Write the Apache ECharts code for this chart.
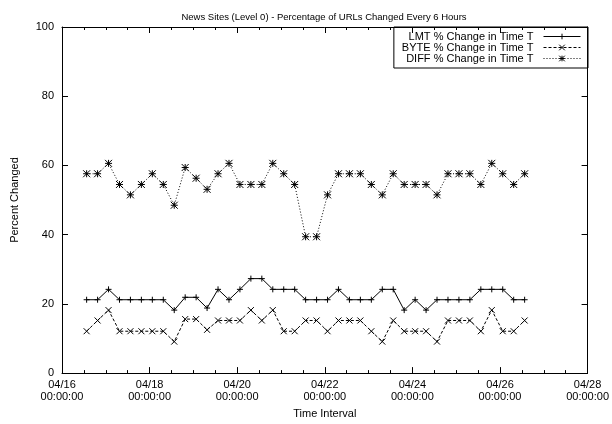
<!DOCTYPE html>
<html>
<head>
<meta charset="utf-8">
<script src="https://cdn.jsdelivr.net/npm/echarts@6/dist/echarts.min.js"></script>
<style>
  html, body { margin: 0; padding: 0; background: #fff; }
  #chart { width: 612px; height: 424px; }
</style>
</head>
<body>
<div id="chart"></div>
<script>
// Sampling: hours after 04/16 00:00, one sample every 6 hours
const startHour = 13.5;
const stepHours = 6;

// Percentage of URLs changed in each interval
const lmtPct = [21.2, 21.2, 24.2, 21.2, 21.2, 21.2, 21.2, 21.2, 18.2, 21.9,
                21.9, 18.8, 24.2, 21.2, 24.2, 27.3, 27.3, 24.2, 24.2, 24.2,
                21.2, 21.2, 21.2, 24.2, 21.2, 21.2, 21.2, 24.2, 24.2, 18.2,
                21.2, 18.2, 21.2, 21.2, 21.2, 21.2, 24.2, 24.2, 24.2, 21.2, 21.2];
const bytePct = [12.1, 15.2, 18.2, 12.1, 12.1, 12.1, 12.1, 12.1, 9.1, 15.6,
                 15.6, 12.5, 15.2, 15.2, 15.2, 18.2, 15.2, 18.2, 12.1, 12.1,
                 15.2, 15.2, 12.1, 15.2, 15.2, 15.2, 12.1, 9.1, 15.2, 12.1,
                 12.1, 12.1, 9.1, 15.2, 15.2, 15.2, 12.1, 18.2, 12.1, 12.1, 15.2];
const diffPct = [57.6, 57.6, 60.6, 54.5, 51.5, 54.5, 57.6, 54.5, 48.5, 59.4,
                 56.3, 53.1, 57.6, 60.6, 54.5, 54.5, 54.5, 60.6, 57.6, 54.5,
                 39.4, 39.4, 51.5, 57.6, 57.6, 57.6, 54.5, 51.5, 57.6, 54.5,
                 54.5, 54.5, 51.5, 57.6, 57.6, 57.6, 54.5, 60.6, 57.6, 54.5, 57.6];

const seriesNames = ['LMT % Change in Time T', 'BYTE % Change in Time T', 'DIFF % Change in Time T'];

// x axis range in hours: 04/16 00:00 .. 04/28 00:00, labelled every 2 days
const xMaxHours = 288;
const xTickHours = 48;
const yMax = 100;
const yTick = 20;

const FONT = '"Liberation Sans", Arial, Helvetica, sans-serif';

function pad2(n) { return (n < 10 ? '0' : '') + n; }
function hourLabel(h) {
  const d = new Date(Date.UTC(2000, 3, 16) + h * 3600 * 1000);
  return pad2(d.getUTCMonth() + 1) + '/' + pad2(d.getUTCDate()) + '\n' +
         pad2(d.getUTCHours()) + ':' + pad2(d.getUTCMinutes()) + ':00';
}
function toPoints(values) {
  return values.map((v, i) => [startHour + i * stepHours, v]);
}

const plusSym = 'path://M0,-1L0,1M-1,0L1,0';
const crossSym = 'path://M-1,-1L1,1M-1,1L1,-1';
const starSym = 'path://M0,-1L0,1M-1,0L1,0M-1,-1L1,1M-1,1L1,-1';

function lineSeries(name, values, symbol, size, dash) {
  return {
    name: name,
    type: 'line',
    xAxisIndex: 0,
    yAxisIndex: 0,
    data: toPoints(values),
    symbol: symbol,
    symbolSize: size,
    showSymbol: true,
    itemStyle: { color: 'rgba(0,0,0,0)', borderColor: '#000', borderWidth: 1 },
    lineStyle: { color: '#000', width: 1, type: dash },
    emphasis: { disabled: true },
    animation: false
  };
}

// frame lines; axes stay on the plot edges
const axisLine = { show: true, onZero: false, lineStyle: { color: '#000', width: 1 } };
// ticks drawn into the plot area
const majorTick = { show: true, inside: true, length: 6, lineStyle: { color: '#000' } };
const minorTick = { show: true, splitNumber: 4, length: 3, lineStyle: { color: '#000' } };

const chart = echarts.init(document.getElementById('chart'), null, { renderer: 'canvas' });
chart.setOption({
  backgroundColor: '#fff',
  animation: false,
  textStyle: { fontFamily: FONT },
  title: {
    text: 'News Sites (Level 0) - Percentage of URLs Changed Every 6 Hours',
    left: 319,
    textAlign: 'center',
    top: 7,
    textStyle: { fontFamily: FONT, fontSize: 9.5, fontWeight: 'normal', color: '#000' }
  },
  legend: {
    orient: 'vertical',
    right: 24,
    top: 27,
    align: 'right',
    itemWidth: 37,
    itemHeight: 7,
    itemGap: 0,
    padding: [4, 7, 4, 8],
    borderColor: '#000',
    borderWidth: 1,
    borderRadius: 0,
    selectedMode: false,
    lineStyle: { width: 1 },
    itemStyle: { color: 'rgba(0,0,0,0)', borderColor: '#000', borderWidth: 1 },
    textStyle: { fontFamily: FONT, fontSize: 11, lineHeight: 11, color: '#000', padding: [0, 5, 0, 0] },
    data: seriesNames
  },
  grid: { left: 62, right: 24, top: 27, bottom: 47, containLabel: false },
  xAxis: [
    {
      type: 'value', position: 'bottom',
      min: 0, max: xMaxHours, interval: xTickHours,
      axisLine: axisLine,
      axisTick: majorTick,
      minorTick: minorTick,
      splitLine: { show: false },
      minorSplitLine: { show: false },
      axisLabel: {
        formatter: hourLabel, color: '#000', fontFamily: FONT, fontSize: 11,
        lineHeight: 12, margin: 6
      },
      name: 'Time Interval', nameLocation: 'middle', nameGap: 34,
      nameTextStyle: { fontFamily: FONT, fontSize: 11, color: '#000' }
    },
    {
      type: 'value', position: 'top',
      min: 0, max: xMaxHours, interval: xTickHours,
      axisLine: axisLine,
      axisTick: majorTick,
      minorTick: minorTick,
      splitLine: { show: false },
      minorSplitLine: { show: false },
      axisLabel: { show: false }
    }
  ],
  yAxis: [
    {
      type: 'value', position: 'left',
      min: 0, max: yMax, interval: yTick,
      axisLine: axisLine,
      axisTick: majorTick,
      splitLine: { show: false },
      axisLabel: { color: '#000', fontFamily: FONT, fontSize: 11, margin: 8 },
      name: 'Percent Changed', nameLocation: 'middle', nameGap: 42, nameRotate: 90,
      nameTextStyle: { fontFamily: FONT, fontSize: 11, color: '#000' }
    },
    {
      type: 'value', position: 'right',
      min: 0, max: yMax, interval: yTick,
      axisLine: axisLine,
      axisTick: majorTick,
      splitLine: { show: false },
      axisLabel: { show: false }
    }
  ],
  series: [
    lineSeries(seriesNames[0], lmtPct, plusSym, 6, 'solid'),
    lineSeries(seriesNames[1], bytePct, crossSym, 6, [3, 2]),
    lineSeries(seriesNames[2], diffPct, starSym, 7, [1, 2])
  ]
});
</script>
</body>
</html>
